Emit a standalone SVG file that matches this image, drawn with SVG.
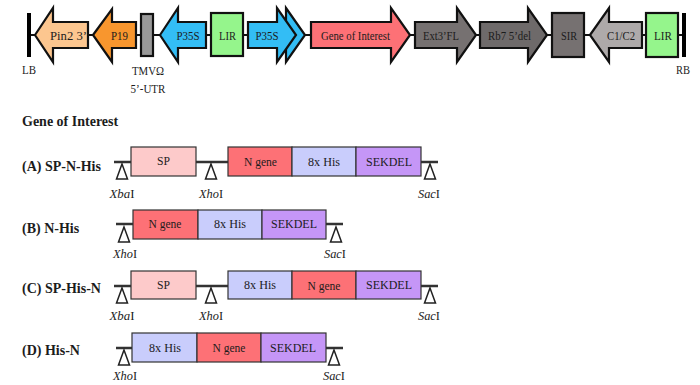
<svg xmlns="http://www.w3.org/2000/svg" width="700" height="385" viewBox="0 0 700 385">
<style>
text{font-family:"Liberation Serif","Times New Roman",serif;fill:#1c1c1c;font-size:13px;text-anchor:middle}
.s{stroke:#111;stroke-width:2.2;stroke-linejoin:miter}
.l{stroke:#333;stroke-width:2.5;fill:none}
.c{stroke:#111;stroke-width:2;fill:none}
.t{fill:#fff;stroke:#222;stroke-width:1.5}
.h{font-weight:bold;font-size:14px;text-anchor:start}
.b{stroke:#333;stroke-width:1.2}
.sp{fill:#fdcaca}.n{fill:#fd7176}.his{fill:#c9cdfc}.sek{fill:#c596f7}
.lir{fill:#95f58c}.p35{fill:#33bdf5}
.e{font-style:italic}
</style>
<defs>
<path id="tri" d="M0 0L5.5 15H-5.5Z" class="t"/>
</defs>
<rect width="700" height="385" fill="#fff"/>
<g id="connectors">
<path class="c" d="M31 35H36M88 35H94M136 35H141M153 35H161M206 35H211M243 35H248M305 35H311M410 35H415M476 35H481M547 35H552M584 35H590M642 35H646M678 35H682"/>
<path class="l" d="M114 162H131M196 162H228M421 162H438M116 224H133M326 224H343M114 286H131M196 286H228M421 286H438M116 348H132M325 348H343"/>
</g>
<g id="LB"><rect x="27" y="13" width="4" height="44" fill="#000"/><text x="29" y="74" textLength="14" lengthAdjust="spacingAndGlyphs">LB</text></g>
<g id="pin2"><path class="s" fill="#fcc68f" d="M35 35L53 8V22H88V48H53V62Z"/><text x="68.500" y="40" textLength="37" lengthAdjust="spacingAndGlyphs">Pin2 3’</text></g>
<g id="p19"><path class="s" fill="#f8962e" d="M93 35L112 9V22H136V48H112V62Z"/><text x="119.500" y="40" textLength="17" lengthAdjust="spacingAndGlyphs">P19</text></g>
<g id="tmv"><rect class="s" fill="#999" x="141" y="14" width="12" height="42"/><text x="148" y="75" textLength="32" lengthAdjust="spacingAndGlyphs">TMVΩ</text><text x="148" y="93" textLength="35" lengthAdjust="spacingAndGlyphs">5’-UTR</text></g>
<g id="p35s-left"><path class="s p35" d="M160 35L178 8V22H206V48H178V62Z"/><text x="188" y="40" textLength="23" lengthAdjust="spacingAndGlyphs">P35S</text></g>
<g id="lir-left"><rect class="s lir" x="211" y="13" width="32" height="43"/><text x="227.500" y="40" textLength="17" lengthAdjust="spacingAndGlyphs">LIR</text></g>
<g id="p35s-right"><path class="s p35" d="M286 8L305 35L286 62Z"/><path class="s p35" d="M248 22H277V8L296 35L277 62V48H248Z"/><text x="267" y="40" textLength="23" lengthAdjust="spacingAndGlyphs">P35S</text></g>
<g id="goi"><path class="s n" d="M311 22H391V8L410 35L391 62V48H311Z"/><text x="355.500" y="40" textLength="69" lengthAdjust="spacingAndGlyphs">Gene of Interest</text></g>
<g id="ext3"><path class="s" fill="#767171" d="M415 22H457V8L476 35L457 62V48H415Z"/><text x="441" y="40" textLength="36" lengthAdjust="spacingAndGlyphs">Ext3’FL</text></g>
<g id="rb7"><path class="s" fill="#6e6a6a" d="M480 22H528V8L547 35L528 62V48H480Z"/><text x="509.500" y="40" textLength="43" lengthAdjust="spacingAndGlyphs">Rb7 5’del</text></g>
<g id="sir"><rect class="s" fill="#767171" x="552" y="13" width="32" height="44"/><text x="569" y="40" textLength="16" lengthAdjust="spacingAndGlyphs">SIR</text></g>
<g id="c1c2"><path class="s" fill="#aeaaaa" d="M590 35L609 8V22H642V48H609V62Z"/><text x="621" y="40" textLength="28" lengthAdjust="spacingAndGlyphs">C1/C2</text></g>
<g id="lir-right"><rect class="s lir" x="646" y="13" width="32" height="44"/><text x="663" y="40" textLength="18" lengthAdjust="spacingAndGlyphs">LIR</text></g>
<g id="RB"><rect x="682" y="13" width="4" height="44" fill="#000"/><text x="683" y="74" textLength="14" lengthAdjust="spacingAndGlyphs">RB</text></g>
<text class="h" x="22" y="126">Gene of Interest</text>
<g id="A">
<text class="h" x="22" y="171">(A) SP-N-His</text>
<rect class="b sp" x="131" y="147" width="65" height="29"/><text x="163.500" y="165" textLength="13" lengthAdjust="spacingAndGlyphs">SP</text>
<rect class="b n" x="228" y="147" width="64" height="29"/><text x="260.500" y="166" textLength="33" lengthAdjust="spacingAndGlyphs">N gene</text>
<rect class="b his" x="292" y="147" width="64" height="29"/><text x="324" y="166" textLength="32" lengthAdjust="spacingAndGlyphs">8x His</text>
<rect class="b sek" x="356" y="147" width="65" height="29"/><text x="389" y="166" textLength="46" lengthAdjust="spacingAndGlyphs">SEKDEL</text>
<use href="#tri" x="122" y="164"/><use href="#tri" x="211" y="164"/><use href="#tri" x="430" y="164"/>
<text x="122" y="198" textLength="25" lengthAdjust="spacingAndGlyphs"><tspan class="e">Xba</tspan>I</text><text x="211" y="198" textLength="24" lengthAdjust="spacingAndGlyphs"><tspan class="e">Xho</tspan>I</text><text x="429" y="198" textLength="22" lengthAdjust="spacingAndGlyphs"><tspan class="e">Sac</tspan>I</text>
</g>
<g id="B">
<text class="h" x="22" y="233">(B) N-His</text>
<rect class="b n" x="133" y="210" width="65" height="29"/><text x="165" y="228" textLength="33" lengthAdjust="spacingAndGlyphs">N gene</text>
<rect class="b his" x="198" y="210" width="64" height="29"/><text x="230" y="228" textLength="32" lengthAdjust="spacingAndGlyphs">8x His</text>
<rect class="b sek" x="262" y="210" width="64" height="29"/><text x="294" y="228" textLength="46" lengthAdjust="spacingAndGlyphs">SEKDEL</text>
<use href="#tri" x="124" y="227"/><use href="#tri" x="336" y="227"/>
<text x="125" y="258" textLength="24" lengthAdjust="spacingAndGlyphs"><tspan class="e">Xho</tspan>I</text><text x="335" y="258" textLength="22" lengthAdjust="spacingAndGlyphs"><tspan class="e">Sac</tspan>I</text>
</g>
<g id="C">
<text class="h" x="22" y="293">(C) SP-His-N</text>
<rect class="b sp" x="131" y="271" width="65" height="28"/><text x="163.500" y="289" textLength="13" lengthAdjust="spacingAndGlyphs">SP</text>
<rect class="b his" x="228" y="271" width="64" height="28"/><text x="260" y="289" textLength="32" lengthAdjust="spacingAndGlyphs">8x His</text>
<rect class="b n" x="292" y="271" width="64" height="28"/><text x="324" y="290" textLength="33" lengthAdjust="spacingAndGlyphs">N gene</text>
<rect class="b sek" x="356" y="271" width="65" height="28"/><text x="389" y="289" textLength="46" lengthAdjust="spacingAndGlyphs">SEKDEL</text>
<use href="#tri" x="122" y="288"/><use href="#tri" x="211" y="288"/><use href="#tri" x="430" y="288"/>
<text x="122" y="320" textLength="25" lengthAdjust="spacingAndGlyphs"><tspan class="e">Xba</tspan>I</text><text x="211" y="320" textLength="24" lengthAdjust="spacingAndGlyphs"><tspan class="e">Xho</tspan>I</text><text x="429" y="320" textLength="22" lengthAdjust="spacingAndGlyphs"><tspan class="e">Sac</tspan>I</text>
</g>
<g id="D">
<text class="h" x="22" y="355">(D) His-N</text>
<rect class="b his" x="132" y="333" width="65" height="29"/><text x="165" y="352" textLength="32" lengthAdjust="spacingAndGlyphs">8x His</text>
<rect class="b n" x="197" y="333" width="64" height="29"/><text x="229" y="352" textLength="33" lengthAdjust="spacingAndGlyphs">N gene</text>
<rect class="b sek" x="261" y="333" width="65" height="29"/><text x="293" y="352" textLength="46" lengthAdjust="spacingAndGlyphs">SEKDEL</text>
<use href="#tri" x="124" y="350"/><use href="#tri" x="334" y="350"/>
<text x="125" y="380" textLength="24" lengthAdjust="spacingAndGlyphs"><tspan class="e">Xho</tspan>I</text><text x="334" y="380" textLength="22" lengthAdjust="spacingAndGlyphs"><tspan class="e">Sac</tspan>I</text>
</g>
</svg>
